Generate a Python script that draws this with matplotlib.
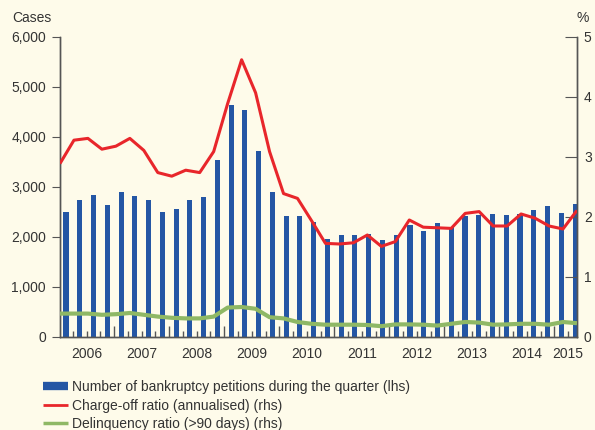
import numpy as np
import matplotlib
matplotlib.use("Agg")
import matplotlib.pyplot as plt
from matplotlib.lines import Line2D
from matplotlib.ticker import FuncFormatter
import matplotlib.transforms as mtransforms

plt.rcParams['font.family'] = ['Liberation Sans', 'DejaVu Sans']

# quarterly data, 2006 Q1 - 2015 Q2
years = ['2006', '2007', '2008', '2009', '2010', '2011', '2012', '2013', '2014', '2015']
petitions = [2490, 2730, 2840, 2640, 2890, 2810, 2740, 2500, 2560, 2740,
             2790, 3540, 4640, 4540, 3720, 2900, 2420, 2410, 2300, 1960,
             2040, 2040, 2060, 1940, 2040, 2230, 2120, 2280, 2190, 2410,
             2430, 2450, 2430, 2460, 2540, 2620, 2480, 2660]
charge_off = [2.89, 3.28, 3.31, 3.13, 3.18, 3.31, 3.11, 2.74, 2.68, 2.78,
              2.74, 3.09, 3.89, 4.62, 4.07, 3.09, 2.39, 2.31, 1.94, 1.56,
              1.55, 1.57, 1.70, 1.51, 1.59, 1.95, 1.83, 1.82, 1.81, 2.06,
              2.09, 1.85, 1.85, 2.05, 1.98, 1.85, 1.80, 2.11]
delinquency = [0.39, 0.39, 0.39, 0.37, 0.38, 0.40, 0.37, 0.34, 0.32, 0.31,
               0.31, 0.34, 0.49, 0.50, 0.47, 0.33, 0.31, 0.25, 0.22, 0.205,
               0.205, 0.205, 0.20, 0.18, 0.21, 0.21, 0.205, 0.19, 0.22, 0.25,
               0.24, 0.205, 0.21, 0.22, 0.22, 0.205, 0.25, 0.23]

bg = '#fefbea'
blue = '#2456a4'
red = '#e8262b'
green = '#8fb865'
txt = '#333333'
axc = '#555555'

fig = plt.figure(figsize=(5.95, 4.3), dpi=100, facecolor=bg)
ax = fig.add_axes([0.1008, 0.2163, 0.8689, 0.6977], facecolor=bg)
ax.set_axisbelow(False)
ax2 = ax.twinx()

n = len(petitions)
xb = np.arange(n)
x0, x1 = -0.44, n - 1 + 0.14
ax.bar(xb, petitions, width=0.37, color=blue, zorder=2)
ax.set_xlim(x0, x1)
ax.set_ylim(0, 6000)
ax.set_yticks(np.arange(0, 6001, 1000))
ax.yaxis.set_major_formatter(FuncFormatter(lambda v, p: f'{int(v):,}'))

# lines run spine to spine, one point per quarter
xl = np.linspace(x0, x1, n)
ax2.plot(xl, delinquency, color=green, lw=3, solid_capstyle='butt', zorder=3)
ax2.plot(xl, charge_off, color=red, lw=2.2, solid_capstyle='butt', zorder=4)
ax2.set_ylim(0, 5)
ax2.set_yticks(range(6))
ax2.set_xlim(x0, x1)

for a in (ax, ax2):
    a.spines['top'].set_visible(False)
    for s in ('left', 'right', 'bottom'):
        a.spines[s].set_color(axc)
        a.spines[s].set_linewidth(1.0)

ax.tick_params(axis='y', direction='out', length=6, color=axc, labelsize=10,
               labelcolor=txt, pad=4)
ax2.tick_params(axis='y', direction='in', length=9, color=axc, labelsize=10,
                labelcolor=txt, pad=5)

# quarter ticks between bars, year ticks taller
ax.set_xticks(xb[3::4] + 0.5)
ax.set_xticks(xb[:-1] + 0.5, minor=True)
ax.tick_params(axis='x', which='major', direction='in', length=8, color=axc,
               width=1, labelbottom=False)
ax.tick_params(axis='x', which='minor', direction='in', length=4, color=axc,
               width=1)

trans = mtransforms.blended_transform_factory(ax.transData, ax.transAxes)
for k, yr in enumerate(years):
    grp = xb[4 * k:4 * k + 4]
    ax.text(grp.mean(), -0.035, yr, transform=trans, ha='center', va='top',
            fontsize=10, color=txt)

fig.text(0.02, 0.958, 'Cases', fontsize=10, color=txt, ha='left', va='center')
fig.text(0.99, 0.958, '%', fontsize=10, color=txt, ha='right', va='center')

handles = [Line2D([], [], color=blue, lw=6, solid_capstyle='butt'),
           Line2D([], [], color=red, lw=2, solid_capstyle='butt'),
           Line2D([], [], color=green, lw=2.5, solid_capstyle='butt')]
labels = ['Number of bankruptcy petitions during the quarter (lhs)',
          'Charge-off ratio (annualised) (rhs)',
          'Delinquency ratio (>90 days) (rhs)']
leg = fig.legend(handles, labels, loc='upper left', bbox_to_anchor=(0.073, 0.116),
                 frameon=False, fontsize=10, handlelength=1.8, handletextpad=0.25,
                 labelspacing=0.33, borderpad=0, borderaxespad=0)
for t in leg.get_texts():
    t.set_color(txt)

fig.savefig('out.png', dpi=100, facecolor=bg)
